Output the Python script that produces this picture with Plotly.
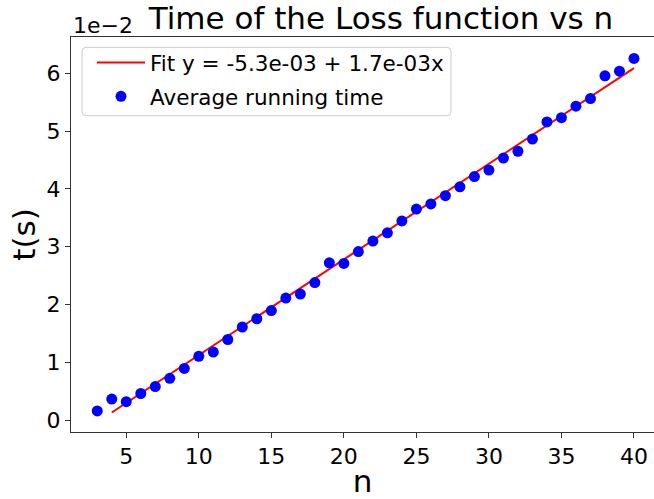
import plotly.graph_objects as go

# Average running time of the loss function for each problem size n
n_values = list(range(3, 41))
avg_time = [
    0.00159, 0.00364, 0.00319, 0.00461, 0.00581, 0.00723, 0.00894, 0.01105,
    0.01178, 0.01395, 0.01611, 0.01754, 0.01896, 0.02112, 0.02181, 0.02380,
    0.02721, 0.02710, 0.02915, 0.03097, 0.03240, 0.03445, 0.03650, 0.03740,
    0.03882, 0.04036, 0.04213, 0.04326, 0.04532, 0.04651, 0.04862, 0.05158,
    0.05232, 0.05431, 0.05563, 0.05955, 0.06035, 0.06256,
]

# Linear fit t = a + b*n, drawn over n = 4..40
fit_intercept = -5.3e-3
fit_slope = 1.655e-3
fit_n = [4, 40]

x_ticks = [5, 10, 15, 20, 25, 30, 35, 40]
y_tick_vals = [0.0, 0.01, 0.02, 0.03, 0.04, 0.05, 0.06]
y_tick_text = ["0", "1", "2", "3", "4", "5", "6"]
y_offset_label = "1e\u22122"

FONT = "DejaVu Sans"
W, H = 654, 499
ML, MR, MT, MB = 71, 0, 37, 62
PW, PH = W - ML - MR, H - MT - MB


def px_x(px):
    """Horizontal pixel position -> paper fraction."""
    return (px - ML) / PW


def px_y(py):
    """Vertical pixel position -> paper fraction."""
    return 1 - (py - MT) / PH


def rounded_box(x0, y0, x1, y1, r):
    """SVG path (paper coords) of a rectangle with rounded corners, given in pixels."""
    pts = [
        f"M{px_x(x0 + r)},{px_y(y0)}",
        f"L{px_x(x1 - r)},{px_y(y0)}",
        f"Q{px_x(x1)},{px_y(y0)} {px_x(x1)},{px_y(y0 + r)}",
        f"L{px_x(x1)},{px_y(y1 - r)}",
        f"Q{px_x(x1)},{px_y(y1)} {px_x(x1 - r)},{px_y(y1)}",
        f"L{px_x(x0 + r)},{px_y(y1)}",
        f"Q{px_x(x0)},{px_y(y1)} {px_x(x0)},{px_y(y1 - r)}",
        f"L{px_x(x0)},{px_y(y0 + r)}",
        f"Q{px_x(x0)},{px_y(y0)} {px_x(x0 + r)},{px_y(y0)}",
        "Z",
    ]
    return " ".join(pts)


fit_t = [fit_intercept + fit_slope * v for v in fit_n]
fit_label = f"Fit y = {fit_intercept:.1e} + {fit_slope:.1e}x"

fig = go.Figure()
fig.add_trace(go.Scatter(
    x=fit_n, y=fit_t, mode="lines", name=fit_label,
    line=dict(color="#ff0000", width=2), legendgroup="fit",
))
fig.add_trace(go.Scatter(
    x=n_values, y=avg_time, mode="markers", name="Average running time",
    marker=dict(color="#0000ff", size=11), legendgroup="avg",
))

fig.update_layout(
    width=W, height=H,
    margin=dict(l=ML, r=MR, t=MT, b=MB, pad=0),
    paper_bgcolor="white", plot_bgcolor="white",
    font=dict(family=FONT, size=22, color="black"),
    title=dict(
        text="Time of the Loss function vs n",
        font=dict(family=FONT, size=31, color="black"),
        xref="container", x=381 / W, xanchor="center",
        yref="container", y=1 - 18 / H, yanchor="middle",
    ),
    showlegend=True,
    legend=dict(
        x=px_x(92), y=px_y(42),
        xanchor="left", yanchor="top",
        bgcolor="rgba(0,0,0,0)", borderwidth=0,
        font=dict(family=FONT, size=21.5, color="black"),
        itemwidth=48,
        traceorder="grouped", tracegroupgap=3,
    ),
    shapes=[dict(
        type="path", xref="paper", yref="paper",
        path=rounded_box(82, 47.5, 451, 116.7, 4),
        line=dict(color="#cccccc", width=1),
        fillcolor="rgba(255,255,255,0.8)", layer="below",
    )],
    xaxis=dict(
        range=[1.19, 41.38],
        tickvals=x_ticks,
        ticks="outside", ticklen=5, tickwidth=1, tickcolor="#333333",
        showline=True, linecolor="#333333", linewidth=1, mirror=True,
        showgrid=False, zeroline=False,
        tickfont=dict(family=FONT, size=22, color="black"),
        title=dict(text="n", font=dict(family=FONT, size=31, color="black"), standoff=8),
    ),
    yaxis=dict(
        range=[-0.00205, 0.06627],
        tickvals=y_tick_vals, ticktext=y_tick_text,
        ticks="outside", ticklen=5, tickwidth=1, tickcolor="#333333",
        showline=True, linecolor="#333333", linewidth=1, mirror=False,
        showgrid=False, zeroline=False,
        tickfont=dict(family=FONT, size=22, color="black"),
        title=dict(text="t(s)", font=dict(family=FONT, size=31, color="black"), standoff=1),
    ),
    annotations=[dict(
        text=y_offset_label, showarrow=False,
        xref="paper", x=0, xanchor="left",
        yref="paper", y=1, yanchor="middle", yshift=12,
        font=dict(family=FONT, size=22, color="black"),
    )],
)

fig.write_html("out.html")
